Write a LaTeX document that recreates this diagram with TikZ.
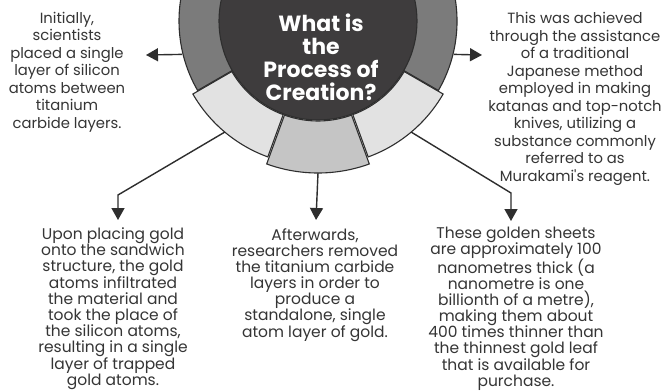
\documentclass[tikz,border=0pt]{standalone}
\usepackage{fontspec}
\setmainfont{Poppins}
\usetikzlibrary{arrows.meta, calc}
\definecolor{coredark}{HTML}{3E3C3D}
\definecolor{ringgray}{HTML}{7B7B7B}
\definecolor{seglight}{HTML}{E2E2E2}
\definecolor{segmid}{HTML}{C5C5C5}
\definecolor{inkgray}{HTML}{2E2E2E}
\definecolor{textgray}{HTML}{353535}

% annular sector: fill, start, end, inner r, outer r, outward shift
\newcommand{\ringsector}[6]{%
  \fill[#1, draw=inkgray, line width=1.1pt]
    ($(C)+({(#2+#3)/2}:#6)+(#2:#5)$) arc[start angle=#2, end angle=#3, radius=#5]
    -- ($(C)+({(#2+#3)/2}:#6)+(#3:#4)$) arc[start angle=#3, end angle=#2, radius=#4]
    -- cycle;}

\begin{document}
\begin{tikzpicture}[x=1pt, y=1pt,
  conn/.style={inkgray, line width=1.4pt, -{Triangle[width=13pt, length=12pt]}},
  body/.style={text=textgray, align=center, inner sep=0pt, font=\fontsize{15.5}{16}\selectfont},
  bodytop/.style={body, font=\fontsize{14.8}{17.5}\selectfont},
  heading/.style={text=white, align=center, inner sep=0pt, font=\bfseries\fontsize{22}{23}\selectfont}]

  % canvas
  \fill[white] (0,0) rectangle (665,-391);
  \useasboundingbox (0,0) rectangle (665,-391);
  \coordinate (C) at (318,-21);

  % upper ring
  \ringsector{ringgray}{-30}{210}{98}{139}{0}

  % lower segments
  \ringsector{seglight}{-150}{-110}{98}{143}{2}
  \ringsector{seglight}{-70}{-30}{98}{143}{2}
  \ringsector{segmid}{-110}{-70}{98}{150}{2}

  % core
  \fill[coredark, draw=inkgray, line width=1.1pt] (C) circle[radius=99];
  \node[heading] (title) at (321,-57) {What is\\the\\Process of\\Creation?};

  % anchor points
  \coordinate (ringW) at ($(C)+(-2,0)+(-166:138)$);
  \coordinate (ringE) at ($(C)+(2,0)+(-14:138)$);
  \coordinate (segSW) at ($(C)+(-130:145)$);
  \coordinate (segS) at ($(C)+(-90:152)$);
  \coordinate (segSE) at ($(C)+(-50:145)$);
  \coordinate (tipW) at (146,-55);
  \coordinate (tipE) at (482,-55);
  \coordinate (bendSW) at (118,-195);
  \coordinate (bendSE) at (511,-193);
  \coordinate (tipSW) at (118,-220);
  \coordinate (tipS) at (316,-220);
  \coordinate (tipSE) at (511,-221);

  % texts
  \node[bodytop] (stepA) at (67,-72) {Initially,\\scientists\\placed a single\\layer of silicon\\atoms between\\titanium\\carbide layers.};
  \node[bodytop] (stepB) at (575,-99) {This was achieved\\through the assistance\\of a traditional\\Japanese method\\employed in making\\katanas and top-notch\\knives, utilizing a\\substance commonly\\referred to as\\Murakami\textquotesingle s reagent.};
  \node[body] (stepC) at (113,-309) {Upon placing gold\\onto the sandwich\\structure, the gold\\atoms infiltrated\\the material and\\took the place of\\the silicon atoms,\\resulting in a single\\layer of trapped\\gold atoms.};
  \node[body] (stepD) at (315,-285) {Afterwards,\\researchers removed\\the titanium carbide\\layers in order to\\produce a\\standalone, single\\atom layer of gold.};
  \node[body] (stepE) at (516,-309) {These golden sheets\\are approximately 100\\nanometres thick (a\\nanometre is one\\billionth of a metre),\\making them about\\400 times thinner than\\the thinnest gold leaf\\that is available for\\purchase.};

  % connectors
  \draw[conn] (ringW) -- (tipW);
  \draw[conn] (ringE) -- (tipE);
  \draw[conn] (segSW) -- (bendSW) -- (tipSW);
  \draw[conn] (segS) -- (tipS);
  \draw[conn] (segSE) -- (bendSE) -- (tipSE);

\end{tikzpicture}
\end{document}
